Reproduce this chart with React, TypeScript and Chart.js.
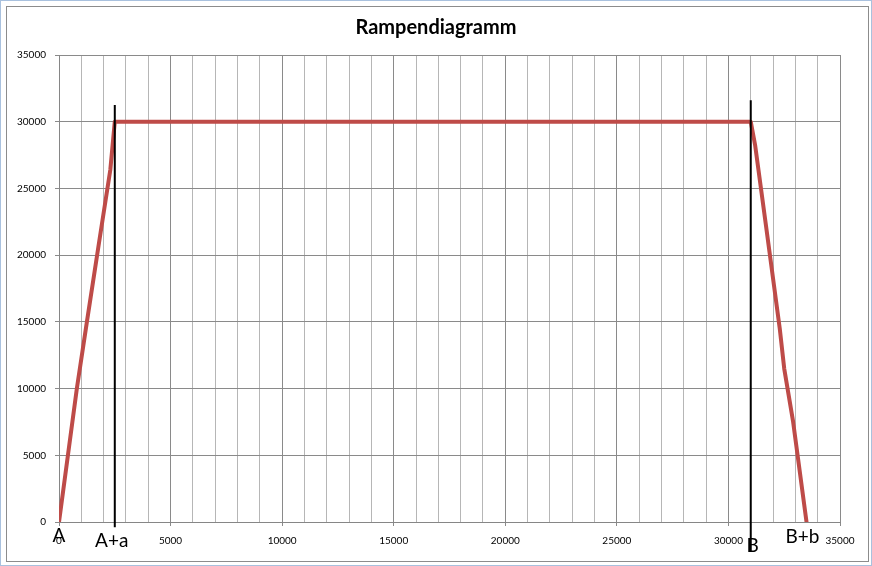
import React, { useEffect, useRef } from "react";
import { Chart, registerables } from "chart.js";

Chart.register(...registerables);

// Ramp profile: rise from A to A+a, hold, fall from B to B+b
const rampX = [0, 400, 800, 1250, 1800, 2300, 2500, 31000, 31200, 31700, 32300, 32500, 32900, 33500];
const rampY = [0, 5000, 10000, 15000, 21000, 26400, 30000, 30000, 28200, 22000, 14500, 11500, 7500, 0];

// Vertical guide lines at A+a and B
const guideX = [2500, 31000];
const guideTop = [31250, 31600];
const guideBottom = [-400, -2250];

// Point names written under the axis
const markerNames = ["A", "A+a", "B", "B+b"];
const markerX = [0, 2500, 31000, 33500];

// Axis settings
const axisMin = 0;
const axisMax = 35000;
const xMinorStep = 1000;
const majorStep = 5000;

const TITLE = "Rampendiagramm";

// pixel nudges for the point names, relative to the mark and the x axis
const markerNudge: [number, number][] = [
  [0, 14],
  [-3, 19],
  [2, 24],
  [-4, 15],
];

// Title centred over the whole canvas, plus the point names under the axis
const overlayTextPlugin = {
  id: "overlayText",
  afterDatasetsDraw(chart: any) {
    const { ctx, chartArea, scales, width } = chart;
    ctx.save();
    ctx.fillStyle = "#000";
    ctx.textAlign = "center";
    ctx.textBaseline = "middle";

    ctx.font = "bold 20px Lato";
    ctx.fillText(TITLE, width / 2, 28);

    ctx.font = "19px Lato";
    markerNames.forEach((name, i) => {
      const [dx, dy] = markerNudge[i];
      const px = scales.x.getPixelForValue(markerX[i]) + dx;
      ctx.fillText(name, px, chartArea.bottom + dy);
    });
    ctx.restore();
  },
};

export default function App() {
  const canvasRef = useRef<HTMLCanvasElement | null>(null);

  useEffect(() => {
    const canvas = canvasRef.current;
    if (!canvas) return;

    const guideSets = guideX.map((gx, i) => ({
      label: "guide" + i,
      data: [
        { x: gx, y: guideTop[i] },
        { x: gx, y: guideBottom[i] },
      ],
      borderColor: "#000000",
      borderWidth: 2,
      pointRadius: 0,
      clip: false as any,
      order: 0,
    }));

    const chart = new Chart(canvas, {
      type: "line",
      data: {
        datasets: [
          ...guideSets,
          {
            label: "Rampe",
            data: rampX.map((x, i) => ({ x, y: rampY[i] })),
            borderColor: "#BE4B48",
            borderWidth: 4,
            pointRadius: 0,
            tension: 0,
            borderJoinStyle: "round",
            borderCapStyle: "round",
            order: 1,
          } as any,
        ],
      },
      options: {
        animation: false,
        responsive: false,
        maintainAspectRatio: false,
        layout: { padding: { left: 0, right: 32, top: 55, bottom: 0 } },
        plugins: {
          legend: { display: false },
          tooltip: { enabled: false },
          title: { display: false },
        },
        scales: {
          x: {
            type: "linear",
            min: axisMin,
            max: axisMax,
            afterFit: (s: any) => {
              s.height = 44;
            },
            ticks: {
              stepSize: xMinorStep,
              autoSkip: false,
              maxRotation: 0,
              padding: 9,
              color: "#000",
              font: { family: "Lato", size: 10 },
              callback: (v: any) => (Number(v) % majorStep === 0 ? String(v) : ""),
            },
            grid: {
              color: (c: any) => (c.tick && c.tick.value % majorStep === 0 ? "#8a8a8a" : "#b6b6b6"),
              tickColor: (c: any) =>
                c.tick && c.tick.value % majorStep === 0 ? "#8a8a8a" : "rgba(0,0,0,0)",
              tickLength: 4,
              lineWidth: 1,
            },
            border: { color: "#868686", width: 1 },
          },
          y: {
            type: "linear",
            min: axisMin,
            max: axisMax,
            afterFit: (s: any) => {
              s.width = 59;
            },
            ticks: {
              stepSize: majorStep,
              padding: 9,
              color: "#000",
              font: { family: "Lato", size: 10 },
              callback: (v: any) => String(v),
            },
            grid: {
              color: "#8a8a8a",
              tickColor: "#8a8a8a",
              tickLength: 4,
              lineWidth: 1,
            },
            border: { color: "#868686", width: 1 },
          },
        },
      },
      plugins: [overlayTextPlugin],
    });

    return () => chart.destroy();
  }, []);

  return (
    <div
      style={{
        position: "fixed",
        left: 0,
        top: 0,
        width: 872,
        height: 566,
        background: "#fff",
      }}
    >
      <canvas
        ref={canvasRef}
        width={872}
        height={566}
        style={{ position: "absolute", left: 0, top: 0, width: 872, height: 566 }}
      />
      <div
        style={{
          position: "absolute",
          left: 0,
          top: 0,
          width: 872,
          height: 566,
          boxSizing: "border-box",
          border: "1px solid #a9c1de",
          pointerEvents: "none",
        }}
      />
      <div
        style={{
          position: "absolute",
          left: 6,
          top: 6,
          width: 863,
          height: 556,
          boxSizing: "border-box",
          border: "1px solid #8c8c8c",
          pointerEvents: "none",
        }}
      />
    </div>
  );
}
